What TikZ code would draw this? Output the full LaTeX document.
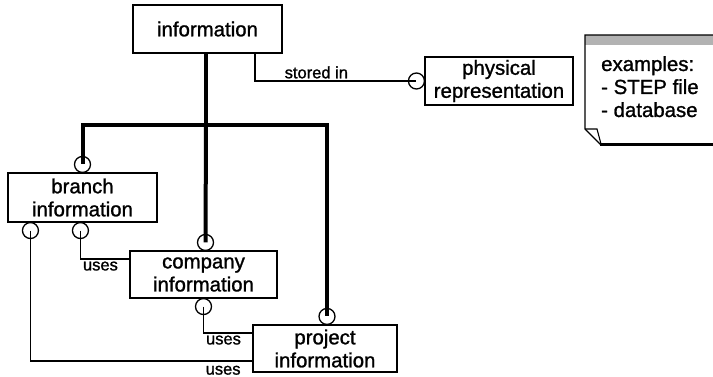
\documentclass[tikz,border=0pt]{standalone}
\usepackage{fontspec}
\setmainfont{Liberation Sans}[BoldFont=Liberation Sans, BoldFeatures={FakeBold=1.2}]
\usetikzlibrary{calc}

\begin{document}
\begin{tikzpicture}[x=1pt, y=-1pt,
    entity/.style = {draw, line width=1.1pt, align=center, inner sep=0pt,
                     font=\fontsize{20.4}{23}\selectfont\bfseries},
    relname/.style = {font=\fontsize{16.5}{18}\selectfont\bfseries, inner sep=2pt},
    subtype/.style = {line width=4pt},
    relation/.style = {line width=1.1pt},
    pin/.style = {line width=1.3pt}]
  \clip (0,0) rectangle (713,377);
  \useasboundingbox (0,0) rectangle (713,377);
  % entities
  \node [entity, minimum width=149pt, minimum height=48pt] (info)     at (207.5, 29)  {information};
  \node [entity, minimum width=148pt, minimum height=48pt] (phys)     at (499, 81)    {physical\\representation};
  \node [entity, minimum width=149pt, minimum height=49pt] (branch)   at (82.5, 197.5) {branch\\information};
  \node [entity, minimum width=147pt, minimum height=47pt] (company)  at (203.5, 274.5) {company\\information};
  \node [entity, minimum width=144pt, minimum height=47pt] (project)  at (325, 348.5) {project\\information};
  % note with folded corner
  \fill[gray!60] (585,35) rectangle (720,45);
  \draw[line width=1.1pt] (720,35) -- (585,35) -- (585,129) -- (601,145);
  \draw[line width=1.1pt] (585,129) -- (597,129) -- (601,144);
  \draw[line width=3pt] (600,145) -- (720,145);
  \node [align=left, anchor=north west, inner sep=0pt,
         font=\fontsize{20.4}{23}\selectfont\bfseries] (note) at (601,56)
        {examples:\\- STEP file\\- database};
  % circle ends
  \coordinate (cb)  at ([yshift=8pt]branch.north);
  \coordinate (cc)  at ([yshift=8pt,xshift=2pt]company.north);
  \coordinate (cp)  at ([yshift=8pt,xshift=2pt]project.north);
  \coordinate (cph) at ([xshift=-8pt]phys.west);
  \coordinate (bl)  at ($(branch.south west)+(23,8)$);
  \coordinate (br)  at ($(branch.south west)+(73,8)$);
  \coordinate (cs)  at ([yshift=-8pt]company.south);
  \coordinate (jn)  at (206,125);
  % subtype tree
  \draw[subtype] (info.south -| jn) -- (jn);
  \draw[subtype] (jn) -| (cb);
  \draw[subtype] (jn) -- (cc);
  \draw[subtype] (jn) -| (cp);
  % relations
  \draw[relation] ([xshift=47.5pt]info.south) |- node[relname, pos=0.69, above] {stored in} (cph);
  \draw[relation] (br) |- node[relname, pos=0.5, below right] {uses} ([yshift=15.5pt]company.west);
  \draw[relation] (cs) |- node[relname, pos=0.5, below right] {uses} ([yshift=15.5pt]project.west);
  \draw[relation] (bl) |- ([yshift=-12.5pt]project.west);
  \node[relname, anchor=north west] (uses3) at ($(cs)+(0,57)$) {uses};
  \foreach \c in {cb, cc, cp, cph, bl, br, cs}
    \draw[pin, fill=none] (\c) circle (8pt);
\end{tikzpicture}
\end{document}
